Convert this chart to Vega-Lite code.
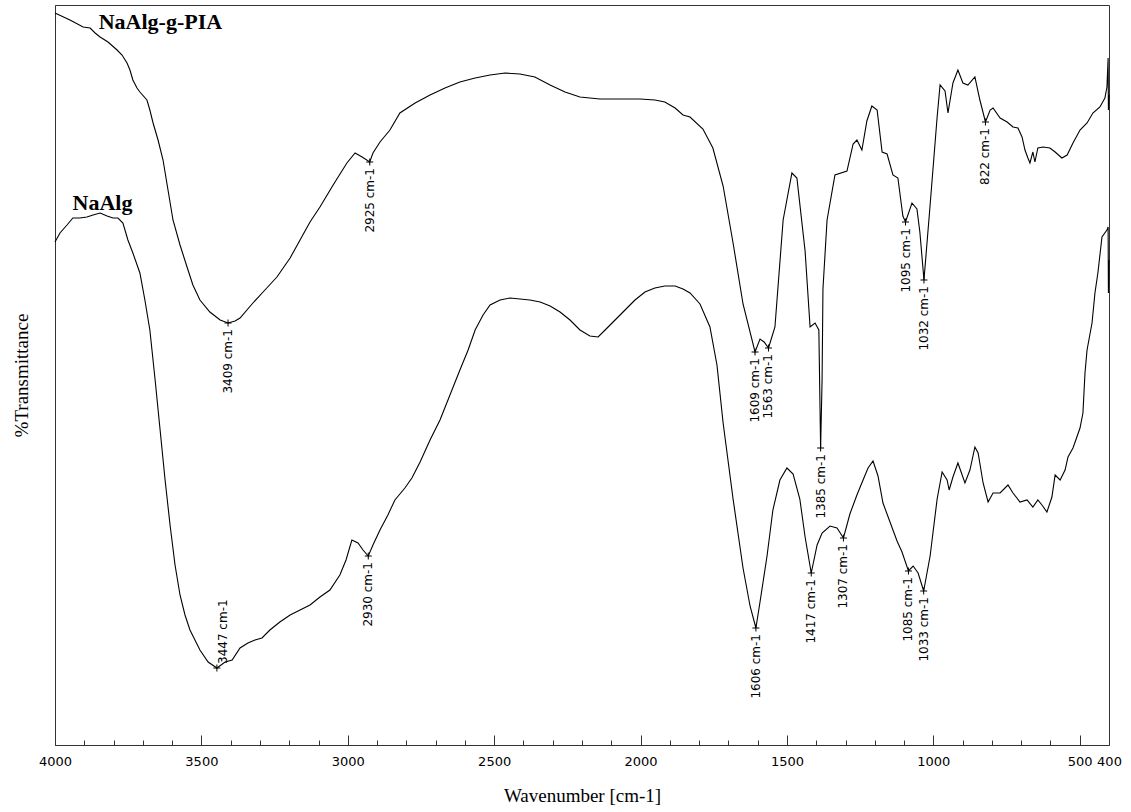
{
  "$schema": "https://vega.github.io/schema/vega-lite/v6.json",
  "width": 1054,
  "height": 740,
  "autosize": "none",
  "padding": {"left": 55, "top": 5, "right": 22, "bottom": 67},
  "background": "white",
  "config": {"view": {"stroke": "#333", "strokeWidth": 1}, "axis": {"grid": false}},
  "datasets": {
    "spectra": [
      {"s":"NaAlg-g-PIA","wn":4000,"t":73.2},{"s":"NaAlg-g-PIA","wn":3949,"t":72.5},{"s":"NaAlg-g-PIA","wn":3904,"t":71.8},{"s":"NaAlg-g-PIA","wn":3880,"t":71.7},{"s":"NaAlg-g-PIA","wn":3863,"t":71.2},{"s":"NaAlg-g-PIA","wn":3846,"t":70.8},{"s":"NaAlg-g-PIA","wn":3819,"t":70.3},{"s":"NaAlg-g-PIA","wn":3788,"t":69.5},{"s":"NaAlg-g-PIA","wn":3771,"t":69.0},{"s":"NaAlg-g-PIA","wn":3754,"t":68.2},{"s":"NaAlg-g-PIA","wn":3744,"t":67.5},{"s":"NaAlg-g-PIA","wn":3734,"t":66.5},{"s":"NaAlg-g-PIA","wn":3720,"t":65.7},{"s":"NaAlg-g-PIA","wn":3710,"t":65.3},{"s":"NaAlg-g-PIA","wn":3686,"t":64.5},{"s":"NaAlg-g-PIA","wn":3676,"t":63.5},{"s":"NaAlg-g-PIA","wn":3665,"t":62.2},{"s":"NaAlg-g-PIA","wn":3648,"t":60.5},{"s":"NaAlg-g-PIA","wn":3631,"t":58.5},{"s":"NaAlg-g-PIA","wn":3614,"t":55.5},{"s":"NaAlg-g-PIA","wn":3597,"t":52.5},{"s":"NaAlg-g-PIA","wn":3573,"t":50.0},{"s":"NaAlg-g-PIA","wn":3549,"t":47.8},{"s":"NaAlg-g-PIA","wn":3529,"t":46.0},{"s":"NaAlg-g-PIA","wn":3505,"t":44.5},{"s":"NaAlg-g-PIA","wn":3471,"t":43.3},{"s":"NaAlg-g-PIA","wn":3436,"t":42.5},{"s":"NaAlg-g-PIA","wn":3409,"t":42.2},{"s":"NaAlg-g-PIA","wn":3385,"t":42.4},{"s":"NaAlg-g-PIA","wn":3368,"t":42.7},{"s":"NaAlg-g-PIA","wn":3324,"t":44.2},{"s":"NaAlg-g-PIA","wn":3283,"t":45.5},{"s":"NaAlg-g-PIA","wn":3242,"t":46.8},{"s":"NaAlg-g-PIA","wn":3197,"t":48.7},{"s":"NaAlg-g-PIA","wn":3163,"t":50.5},{"s":"NaAlg-g-PIA","wn":3129,"t":52.3},{"s":"NaAlg-g-PIA","wn":3095,"t":53.8},{"s":"NaAlg-g-PIA","wn":3050,"t":56.0},{"s":"NaAlg-g-PIA","wn":3003,"t":58.2},{"s":"NaAlg-g-PIA","wn":2975,"t":59.2},{"s":"NaAlg-g-PIA","wn":2951,"t":58.8},{"s":"NaAlg-g-PIA","wn":2925,"t":58.3},{"s":"NaAlg-g-PIA","wn":2914,"t":59.2},{"s":"NaAlg-g-PIA","wn":2890,"t":60.3},{"s":"NaAlg-g-PIA","wn":2856,"t":61.5},{"s":"NaAlg-g-PIA","wn":2822,"t":63.2},{"s":"NaAlg-g-PIA","wn":2770,"t":64.2},{"s":"NaAlg-g-PIA","wn":2719,"t":65.0},{"s":"NaAlg-g-PIA","wn":2668,"t":65.7},{"s":"NaAlg-g-PIA","wn":2617,"t":66.3},{"s":"NaAlg-g-PIA","wn":2565,"t":66.7},{"s":"NaAlg-g-PIA","wn":2514,"t":67.0},{"s":"NaAlg-g-PIA","wn":2463,"t":67.2},{"s":"NaAlg-g-PIA","wn":2412,"t":67.1},{"s":"NaAlg-g-PIA","wn":2361,"t":66.8},{"s":"NaAlg-g-PIA","wn":2309,"t":66.0},{"s":"NaAlg-g-PIA","wn":2258,"t":65.3},{"s":"NaAlg-g-PIA","wn":2207,"t":64.8},{"s":"NaAlg-g-PIA","wn":2139,"t":64.6},{"s":"NaAlg-g-PIA","wn":2070,"t":64.6},{"s":"NaAlg-g-PIA","wn":2002,"t":64.6},{"s":"NaAlg-g-PIA","wn":1951,"t":64.5},{"s":"NaAlg-g-PIA","wn":1917,"t":64.3},{"s":"NaAlg-g-PIA","wn":1882,"t":63.7},{"s":"NaAlg-g-PIA","wn":1855,"t":63.0},{"s":"NaAlg-g-PIA","wn":1831,"t":62.8},{"s":"NaAlg-g-PIA","wn":1787,"t":61.6},{"s":"NaAlg-g-PIA","wn":1753,"t":59.7},{"s":"NaAlg-g-PIA","wn":1718,"t":55.9},{"s":"NaAlg-g-PIA","wn":1684,"t":50.2},{"s":"NaAlg-g-PIA","wn":1650,"t":44.1},{"s":"NaAlg-g-PIA","wn":1609,"t":39.3},{"s":"NaAlg-g-PIA","wn":1592,"t":40.6},{"s":"NaAlg-g-PIA","wn":1578,"t":40.3},{"s":"NaAlg-g-PIA","wn":1563,"t":39.7},{"s":"NaAlg-g-PIA","wn":1541,"t":41.8},{"s":"NaAlg-g-PIA","wn":1513,"t":52.5},{"s":"NaAlg-g-PIA","wn":1483,"t":57.2},{"s":"NaAlg-g-PIA","wn":1466,"t":56.7},{"s":"NaAlg-g-PIA","wn":1438,"t":49.4},{"s":"NaAlg-g-PIA","wn":1421,"t":41.8},{"s":"NaAlg-g-PIA","wn":1404,"t":42.2},{"s":"NaAlg-g-PIA","wn":1391,"t":41.5},{"s":"NaAlg-g-PIA","wn":1385,"t":29.7},{"s":"NaAlg-g-PIA","wn":1380,"t":36.5},{"s":"NaAlg-g-PIA","wn":1377,"t":45.6},{"s":"NaAlg-g-PIA","wn":1363,"t":52.5},{"s":"NaAlg-g-PIA","wn":1336,"t":57.0},{"s":"NaAlg-g-PIA","wn":1295,"t":57.4},{"s":"NaAlg-g-PIA","wn":1274,"t":60.1},{"s":"NaAlg-g-PIA","wn":1261,"t":60.5},{"s":"NaAlg-g-PIA","wn":1244,"t":59.5},{"s":"NaAlg-g-PIA","wn":1227,"t":62.4},{"s":"NaAlg-g-PIA","wn":1210,"t":63.9},{"s":"NaAlg-g-PIA","wn":1192,"t":63.5},{"s":"NaAlg-g-PIA","wn":1175,"t":59.3},{"s":"NaAlg-g-PIA","wn":1158,"t":59.1},{"s":"NaAlg-g-PIA","wn":1138,"t":57.0},{"s":"NaAlg-g-PIA","wn":1121,"t":56.7},{"s":"NaAlg-g-PIA","wn":1104,"t":52.9},{"s":"NaAlg-g-PIA","wn":1095,"t":52.3},{"s":"NaAlg-g-PIA","wn":1073,"t":54.2},{"s":"NaAlg-g-PIA","wn":1056,"t":53.6},{"s":"NaAlg-g-PIA","wn":1046,"t":51.3},{"s":"NaAlg-g-PIA","wn":1032,"t":46.5},{"s":"NaAlg-g-PIA","wn":1011,"t":54.0},{"s":"NaAlg-g-PIA","wn":987,"t":62.8},{"s":"NaAlg-g-PIA","wn":977,"t":66.0},{"s":"NaAlg-g-PIA","wn":960,"t":65.4},{"s":"NaAlg-g-PIA","wn":950,"t":63.2},{"s":"NaAlg-g-PIA","wn":933,"t":66.2},{"s":"NaAlg-g-PIA","wn":916,"t":67.5},{"s":"NaAlg-g-PIA","wn":899,"t":66.2},{"s":"NaAlg-g-PIA","wn":882,"t":66.0},{"s":"NaAlg-g-PIA","wn":858,"t":66.8},{"s":"NaAlg-g-PIA","wn":841,"t":64.5},{"s":"NaAlg-g-PIA","wn":822,"t":62.3},{"s":"NaAlg-g-PIA","wn":806,"t":63.5},{"s":"NaAlg-g-PIA","wn":796,"t":63.7},{"s":"NaAlg-g-PIA","wn":772,"t":62.7},{"s":"NaAlg-g-PIA","wn":748,"t":62.3},{"s":"NaAlg-g-PIA","wn":728,"t":61.8},{"s":"NaAlg-g-PIA","wn":711,"t":61.7},{"s":"NaAlg-g-PIA","wn":697,"t":60.8},{"s":"NaAlg-g-PIA","wn":687,"t":59.5},{"s":"NaAlg-g-PIA","wn":677,"t":58.7},{"s":"NaAlg-g-PIA","wn":670,"t":58.2},{"s":"NaAlg-g-PIA","wn":660,"t":59.3},{"s":"NaAlg-g-PIA","wn":653,"t":58.3},{"s":"NaAlg-g-PIA","wn":643,"t":59.7},{"s":"NaAlg-g-PIA","wn":625,"t":59.8},{"s":"NaAlg-g-PIA","wn":602,"t":59.7},{"s":"NaAlg-g-PIA","wn":584,"t":59.3},{"s":"NaAlg-g-PIA","wn":561,"t":58.7},{"s":"NaAlg-g-PIA","wn":543,"t":59.0},{"s":"NaAlg-g-PIA","wn":523,"t":60.2},{"s":"NaAlg-g-PIA","wn":499,"t":61.5},{"s":"NaAlg-g-PIA","wn":475,"t":62.2},{"s":"NaAlg-g-PIA","wn":455,"t":63.2},{"s":"NaAlg-g-PIA","wn":431,"t":63.8},{"s":"NaAlg-g-PIA","wn":414,"t":64.7},{"s":"NaAlg-g-PIA","wn":407,"t":65.8},{"s":"NaAlg-g-PIA","wn":403,"t":68.7},{"s":"NaAlg-g-PIA","wn":402,"t":63.5},{"s":"NaAlg-g-PIA","wn":400,"t":65.0},
      {"s":"NaAlg","wn":4000,"t":50.3},{"s":"NaAlg","wn":3983,"t":51.2},{"s":"NaAlg","wn":3959,"t":52.0},{"s":"NaAlg","wn":3939,"t":52.7},{"s":"NaAlg","wn":3915,"t":52.7},{"s":"NaAlg","wn":3891,"t":52.8},{"s":"NaAlg","wn":3870,"t":53.0},{"s":"NaAlg","wn":3846,"t":53.2},{"s":"NaAlg","wn":3822,"t":52.9},{"s":"NaAlg","wn":3802,"t":52.7},{"s":"NaAlg","wn":3785,"t":52.7},{"s":"NaAlg","wn":3768,"t":52.2},{"s":"NaAlg","wn":3751,"t":50.5},{"s":"NaAlg","wn":3734,"t":49.2},{"s":"NaAlg","wn":3710,"t":47.2},{"s":"NaAlg","wn":3693,"t":44.5},{"s":"NaAlg","wn":3676,"t":41.5},{"s":"NaAlg","wn":3658,"t":36.5},{"s":"NaAlg","wn":3641,"t":31.5},{"s":"NaAlg","wn":3624,"t":26.5},{"s":"NaAlg","wn":3607,"t":22.0},{"s":"NaAlg","wn":3590,"t":18.0},{"s":"NaAlg","wn":3573,"t":15.0},{"s":"NaAlg","wn":3556,"t":13.0},{"s":"NaAlg","wn":3539,"t":11.5},{"s":"NaAlg","wn":3505,"t":9.5},{"s":"NaAlg","wn":3477,"t":8.3},{"s":"NaAlg","wn":3447,"t":7.7},{"s":"NaAlg","wn":3419,"t":8.3},{"s":"NaAlg","wn":3395,"t":8.5},{"s":"NaAlg","wn":3368,"t":9.7},{"s":"NaAlg","wn":3341,"t":10.2},{"s":"NaAlg","wn":3317,"t":10.5},{"s":"NaAlg","wn":3293,"t":10.7},{"s":"NaAlg","wn":3266,"t":11.5},{"s":"NaAlg","wn":3232,"t":12.3},{"s":"NaAlg","wn":3197,"t":13.0},{"s":"NaAlg","wn":3163,"t":13.5},{"s":"NaAlg","wn":3129,"t":14.0},{"s":"NaAlg","wn":3095,"t":14.8},{"s":"NaAlg","wn":3061,"t":15.5},{"s":"NaAlg","wn":3027,"t":17.0},{"s":"NaAlg","wn":3006,"t":18.5},{"s":"NaAlg","wn":2986,"t":20.5},{"s":"NaAlg","wn":2965,"t":20.2},{"s":"NaAlg","wn":2948,"t":19.5},{"s":"NaAlg","wn":2930,"t":18.9},{"s":"NaAlg","wn":2914,"t":20.0},{"s":"NaAlg","wn":2890,"t":21.5},{"s":"NaAlg","wn":2863,"t":23.0},{"s":"NaAlg","wn":2839,"t":24.5},{"s":"NaAlg","wn":2805,"t":25.7},{"s":"NaAlg","wn":2781,"t":26.7},{"s":"NaAlg","wn":2753,"t":28.3},{"s":"NaAlg","wn":2719,"t":30.5},{"s":"NaAlg","wn":2685,"t":32.5},{"s":"NaAlg","wn":2651,"t":35.0},{"s":"NaAlg","wn":2617,"t":37.5},{"s":"NaAlg","wn":2589,"t":39.5},{"s":"NaAlg","wn":2565,"t":41.5},{"s":"NaAlg","wn":2538,"t":43.0},{"s":"NaAlg","wn":2514,"t":44.0},{"s":"NaAlg","wn":2480,"t":44.5},{"s":"NaAlg","wn":2446,"t":44.7},{"s":"NaAlg","wn":2412,"t":44.6},{"s":"NaAlg","wn":2378,"t":44.5},{"s":"NaAlg","wn":2343,"t":44.3},{"s":"NaAlg","wn":2309,"t":43.9},{"s":"NaAlg","wn":2275,"t":43.3},{"s":"NaAlg","wn":2241,"t":42.5},{"s":"NaAlg","wn":2207,"t":41.5},{"s":"NaAlg","wn":2173,"t":40.9},{"s":"NaAlg","wn":2145,"t":40.8},{"s":"NaAlg","wn":2121,"t":41.5},{"s":"NaAlg","wn":2087,"t":42.5},{"s":"NaAlg","wn":2053,"t":43.5},{"s":"NaAlg","wn":2019,"t":44.5},{"s":"NaAlg","wn":1985,"t":45.3},{"s":"NaAlg","wn":1951,"t":45.7},{"s":"NaAlg","wn":1917,"t":45.9},{"s":"NaAlg","wn":1882,"t":45.9},{"s":"NaAlg","wn":1855,"t":45.6},{"s":"NaAlg","wn":1831,"t":45.2},{"s":"NaAlg","wn":1797,"t":44.1},{"s":"NaAlg","wn":1763,"t":41.8},{"s":"NaAlg","wn":1739,"t":38.0},{"s":"NaAlg","wn":1718,"t":32.2},{"s":"NaAlg","wn":1684,"t":24.6},{"s":"NaAlg","wn":1650,"t":17.7},{"s":"NaAlg","wn":1626,"t":13.9},{"s":"NaAlg","wn":1606,"t":11.7},{"s":"NaAlg","wn":1592,"t":14.3},{"s":"NaAlg","wn":1568,"t":18.9},{"s":"NaAlg","wn":1548,"t":23.5},{"s":"NaAlg","wn":1524,"t":26.5},{"s":"NaAlg","wn":1500,"t":27.7},{"s":"NaAlg","wn":1479,"t":27.1},{"s":"NaAlg","wn":1456,"t":24.6},{"s":"NaAlg","wn":1438,"t":20.8},{"s":"NaAlg","wn":1417,"t":17.2},{"s":"NaAlg","wn":1397,"t":20.0},{"s":"NaAlg","wn":1380,"t":21.2},{"s":"NaAlg","wn":1353,"t":21.9},{"s":"NaAlg","wn":1329,"t":21.7},{"s":"NaAlg","wn":1307,"t":20.7},{"s":"NaAlg","wn":1285,"t":23.1},{"s":"NaAlg","wn":1261,"t":25.0},{"s":"NaAlg","wn":1240,"t":26.5},{"s":"NaAlg","wn":1223,"t":27.7},{"s":"NaAlg","wn":1206,"t":28.4},{"s":"NaAlg","wn":1189,"t":26.9},{"s":"NaAlg","wn":1172,"t":24.2},{"s":"NaAlg","wn":1148,"t":22.3},{"s":"NaAlg","wn":1124,"t":20.4},{"s":"NaAlg","wn":1107,"t":19.3},{"s":"NaAlg","wn":1085,"t":17.4},{"s":"NaAlg","wn":1069,"t":17.9},{"s":"NaAlg","wn":1052,"t":17.2},{"s":"NaAlg","wn":1033,"t":15.4},{"s":"NaAlg","wn":1011,"t":18.9},{"s":"NaAlg","wn":987,"t":24.6},{"s":"NaAlg","wn":970,"t":27.3},{"s":"NaAlg","wn":953,"t":26.5},{"s":"NaAlg","wn":946,"t":25.5},{"s":"NaAlg","wn":933,"t":26.8},{"s":"NaAlg","wn":916,"t":28.2},{"s":"NaAlg","wn":892,"t":26.2},{"s":"NaAlg","wn":875,"t":27.5},{"s":"NaAlg","wn":858,"t":29.8},{"s":"NaAlg","wn":847,"t":29.2},{"s":"NaAlg","wn":830,"t":26.2},{"s":"NaAlg","wn":813,"t":24.3},{"s":"NaAlg","wn":796,"t":25.2},{"s":"NaAlg","wn":772,"t":25.2},{"s":"NaAlg","wn":745,"t":26.0},{"s":"NaAlg","wn":728,"t":25.2},{"s":"NaAlg","wn":704,"t":24.3},{"s":"NaAlg","wn":680,"t":24.5},{"s":"NaAlg","wn":660,"t":23.8},{"s":"NaAlg","wn":643,"t":24.5},{"s":"NaAlg","wn":629,"t":24.0},{"s":"NaAlg","wn":612,"t":23.3},{"s":"NaAlg","wn":595,"t":24.8},{"s":"NaAlg","wn":584,"t":27.0},{"s":"NaAlg","wn":567,"t":26.5},{"s":"NaAlg","wn":550,"t":27.5},{"s":"NaAlg","wn":540,"t":28.8},{"s":"NaAlg","wn":523,"t":29.7},{"s":"NaAlg","wn":499,"t":31.7},{"s":"NaAlg","wn":489,"t":33.2},{"s":"NaAlg","wn":482,"t":37.2},{"s":"NaAlg","wn":475,"t":39.5},{"s":"NaAlg","wn":458,"t":42.2},{"s":"NaAlg","wn":448,"t":45.2},{"s":"NaAlg","wn":438,"t":47.2},{"s":"NaAlg","wn":424,"t":50.8},{"s":"NaAlg","wn":407,"t":51.5},{"s":"NaAlg","wn":403,"t":51.8},{"s":"NaAlg","wn":402,"t":45.2},{"s":"NaAlg","wn":400,"t":48.5}
    ],
    "peaks": [
      {"wn":3409,"t":42.2,"label":"3409 cm-1"},{"wn":2925,"t":58.3,"label":"2925 cm-1"},{"wn":1609,"t":39.3,"label":"1609 cm-1"},{"wn":1563,"t":39.7,"label":"1563 cm-1"},{"wn":1385,"t":29.7,"label":"1385 cm-1"},{"wn":1095,"t":52.3,"label":"1095 cm-1"},{"wn":1032,"t":46.5,"label":"1032 cm-1"},{"wn":822,"t":62.3,"label":"822 cm-1"},
      {"wn":3447,"t":7.7,"label":"3447 cm-1"},{"wn":2930,"t":18.9,"label":"2930 cm-1"},{"wn":1606,"t":11.7,"label":"1606 cm-1"},{"wn":1417,"t":17.2,"label":"1417 cm-1"},{"wn":1307,"t":20.7,"label":"1307 cm-1"},{"wn":1085,"t":17.4,"label":"1085 cm-1"},{"wn":1033,"t":15.4,"label":"1033 cm-1"}
    ],
    "names": [
      {"wn":3640,"t":72.3,"name":"NaAlg-g-PIA"},{"wn":3838,"t":54.2,"name":"NaAlg"}
    ]
  },
  "encoding": {
    "x": {"field":"wn","type":"quantitative",
      "scale":{"domain":[400,4000],"reverse":true,"nice":false,"zero":false},
      "axis":{"values":[4000,3900,3800,3700,3600,3500,3400,3300,3200,3100,3000,2900,2800,2700,2600,2500,2400,2300,2200,2100,2000,1900,1800,1700,1600,1500,1400,1300,1200,1100,1000,900,800,700,600,500,400],
        "labelExpr":"(datum.value % 500 === 0 || datum.value === 400) ? datum.value : ''",
        "tickSize":{"condition":{"test":"datum.value % 500 === 0 || datum.value === 400","value":-10},"value":-5},
        "tickColor":"#333","domainColor":"#333","labelColor":"black","labelFont":"DejaVu Sans","labelFontSize":13,"labelPadding":20,"labelFlush":false,"labelOverlap":false,
        "title":"Wavenumber [cm-1]","titleFont":"Liberation Serif","titleFontSize":19,"titleFontWeight":"normal","titleColor":"black","titlePadding":13}},
    "y": {"field":"t","type":"quantitative",
      "scale":{"domain":[0,74],"nice":false,"zero":false},
      "axis":{"labels":false,"ticks":false,"domainColor":"#333","title":"%Transmittance","titleFont":"Liberation Serif","titleFontSize":19,"titleFontWeight":"normal","titleColor":"black","titlePadding":24}}
  },
  "layer": [
    {"data":{"name":"spectra"},"mark":{"type":"line","color":"black","strokeWidth":1.1},"encoding":{"detail":{"field":"s"}}},
    {"data":{"name":"peaks"},"mark":{"type":"point","shape":"M-1,0H1M0,-1V1","size":49,"filled":false,"stroke":"black","strokeWidth":1,"opacity":1}},
    {"data":{"name":"peaks"},"transform":[{"filter":"datum.label !== '3447 cm-1'"}],"mark":{"type":"text","angle":270,"align":"right","baseline":"middle","dx":-6,"font":"DejaVu Sans","fontSize":12,"color":"black"},"encoding":{"text":{"field":"label"}}},
    {"data":{"name":"peaks"},"transform":[{"filter":"datum.label === '3447 cm-1'"}],"mark":{"type":"text","angle":270,"align":"left","baseline":"middle","dx":4,"dy":6,"font":"DejaVu Sans","fontSize":12,"color":"black"},"encoding":{"text":{"field":"label"}}},
    {"data":{"name":"names"},"mark":{"type":"text","align":"center","baseline":"middle","font":"Liberation Serif","fontSize":22,"fontWeight":"bold","color":"black"},"encoding":{"text":{"field":"name"}}}
  ]
}
